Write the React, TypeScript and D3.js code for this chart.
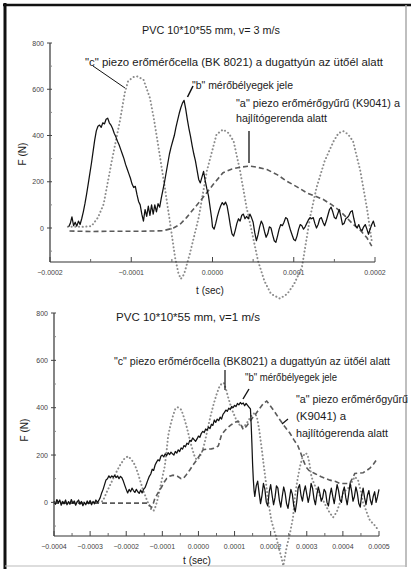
import React from "react";
import * as d3 from "d3";

// ---------- data (time in microseconds, force in N) ----------
const TOP_X_TICKS = [-0.0002, -0.0001, 0, 0.0001, 0.0002];
const TOP_X_MINOR = [-0.00015, -0.00005, 0.00005, 0.00015];
const BOT_X_TICKS = [-0.0004, -0.0003, -0.0002, -0.0001, 0, 0.0001, 0.0002, 0.0003, 0.0004, 0.0005];
const BOT_X_MINOR = [-0.00035, -0.00025, -0.00015, -0.00005, 0.00005, 0.00015, 0.00025, 0.00035, 0.00045];
const Y_TICKS = [0, 200, 400, 600, 800];
const Y_MINOR = [-100, 100, 300, 500, 700];

// top panel, v = 3 m/s
const TOP_B: [number, number][] = [
  [-177, 5], [-175, 20], [-173, 48], [-171, 10], [-169, 25], [-167, 8], [-165, 30], [-163, 15], [-161, 40], [-159, 70],
  [-157, 105], [-155, 145], [-153, 190], [-151, 235], [-149, 280], [-147, 330], [-145, 380], [-143, 420], [-141, 440], [-139, 445],
  [-137, 435], [-135, 455], [-133, 450], [-131, 470], [-129, 475], [-127, 455], [-125, 445], [-123, 430], [-121, 410], [-119, 395],
  [-117, 375], [-115, 360], [-113, 340], [-111, 320], [-109, 300], [-107, 275], [-105, 255], [-103, 235], [-101, 215], [-99, 190],
  [-97, 175], [-95, 180], [-93, 145], [-91, 115], [-89, 100], [-87, 60], [-85, 30], [-83, 80], [-81, 50], [-79, 95],
  [-77, 55], [-75, 100], [-73, 60], [-71, 100], [-69, 70], [-67, 105], [-65, 90], [-63, 130], [-61, 165], [-59, 200],
  [-57, 240], [-55, 280], [-53, 320], [-51, 350], [-49, 375], [-47, 400], [-45, 435], [-43, 465], [-41, 495], [-39, 520],
  [-37, 540], [-35, 552], [-33, 515], [-31, 470], [-29, 430], [-27, 395], [-25, 355], [-23, 320], [-21, 290], [-19, 250],
  [-17, 210], [-15, 195], [-13, 220], [-11, 245], [-9, 205], [-7, 170], [-5, 140], [-3, 90], [-1, 40],
  [0, 5], [2, -5], [4, 20], [6, 50], [8, 75], [10, 95], [12, 110], [14, 100], [16, 112], [18, 95],
  [20, 55], [22, 10], [24, -25], [26, -35], [28, -10], [30, 20], [32, 40], [34, 30], [36, 55], [38, 60],
  [40, 40], [42, 50], [44, 40], [46, 60], [48, 45], [50, 25], [52, -20], [54, -55], [56, -30], [58, 5],
  [60, 30], [62, 15], [64, -15], [66, -40], [68, -25], [70, 5], [72, 0], [74, -30], [76, -55], [78, -62],
  [80, -35], [82, -5], [84, 15], [86, 10], [88, 25], [90, 45], [92, 40], [94, 15], [96, -10], [98, -30],
  [100, -50], [102, -55], [104, -35], [106, -5], [108, 15], [110, 10], [112, -5], [114, 5], [116, 20], [118, 35],
  [120, 45], [122, 40], [124, 45], [126, 20], [128, 0], [130, 15], [132, 40], [134, 45], [136, 25], [138, 10],
  [140, 30], [142, 55], [144, 80], [146, 90], [148, 70], [150, 45], [152, 40], [154, 60], [156, 80], [158, 50],
  [160, 15], [162, 20], [164, 40], [166, 45], [168, 55], [170, 70], [172, 75], [174, 40], [176, 10], [178, 0],
  [180, 15], [182, -5], [184, -12], [186, 5], [188, 15], [190, -5], [192, -27], [194, -5], [196, 15], [198, 30], [200, 5],
];
const TOP_C: [number, number][] = [
  [-178, 5], [-160, 5], [-149, 8], [-141, 45], [-134, 103], [-124, 289], [-114, 462], [-108, 584], [-104, 634], [-98, 652],
  [-93, 656], [-85, 642], [-77, 562], [-72, 470], [-67, 361], [-58, 160], [-52, 17], [-46, -128], [-42, -195], [-39, -220],
  [-35, -200], [-28, -113], [-17, 45], [-7, 246], [5, 405], [13, 426], [20, 410], [26, 375], [34, 246], [42, 88],
  [50, -42], [56, -142], [64, -230], [72, -285], [83, -305], [92, -285], [100, -245], [110, -171], [120, 45], [128, 174],
  [138, 289], [149, 375], [155, 410], [161, 419], [167, 405], [173, 375], [182, 246], [190, 88], [196, -56],
];
const TOP_A: [number, number][] = [
  [-176, -13], [-150, -15], [-120, -14], [-90, -14], [-61, -12], [-48, 0], [-40, 16], [-32, 45], [-15, 117], [1, 189],
  [13, 239], [24, 255], [34, 263], [46, 268], [56, 262], [67, 253], [80, 230], [91, 203], [104, 178], [116, 152],
  [126, 138], [136, 124], [147, 100], [157, 73], [165, 45], [173, 16], [182, -10], [190, -42], [196, -78],
];

// bottom panel, v = 1 m/s
const BOT_B: [number, number][] = [
  [-400, 5], [-396, -8], [-392, 12], [-388, -2], [-384, 10], [-380, -12], [-376, 4], [-372, -6], [-368, 10], [-364, -10],
  [-360, 3], [-356, -8], [-352, 12], [-348, -4], [-344, 6], [-340, -12], [-336, 2], [-332, 10], [-328, -8], [-324, 4],
  [-320, -14], [-316, 0], [-312, -10], [-308, 6], [-304, -6], [-300, 8], [-296, -10], [-292, 4], [-288, -6], [-284, 10],
  [-280, 0], [-276, 8], [-272, 20], [-268, 40], [-264, 55], [-260, 75], [-256, 95], [-252, 100], [-248, 112], [-244, 104],
  [-240, 112], [-236, 106], [-232, 114], [-228, 105], [-224, 112], [-220, 100], [-216, 110], [-212, 104], [-208, 90], [-204, 72],
  [-200, 55], [-196, 40], [-192, 55], [-188, 45], [-184, 60], [-180, 50], [-176, 42], [-172, 55], [-168, 45], [-164, 38],
  [-160, 52], [-156, 40], [-152, 55], [-148, 62], [-144, 78], [-140, 95], [-136, 110], [-132, 120], [-128, 140], [-124, 135],
  [-120, 158], [-116, 170], [-112, 180], [-108, 175], [-104, 195], [-100, 200], [-96, 192], [-92, 205], [-88, 198], [-84, 210],
  [-80, 202], [-76, 212], [-72, 205], [-68, 200], [-64, 215], [-60, 208], [-56, 222], [-52, 215], [-48, 230], [-44, 225],
  [-40, 240], [-36, 235], [-32, 250], [-28, 245], [-24, 262], [-20, 258], [-16, 272], [-12, 265], [-8, 258], [-4, 268],
  [0, 280], [4, 275], [8, 292], [12, 300], [16, 295], [20, 310], [24, 305], [28, 318], [32, 312], [36, 330],
  [40, 325], [44, 348], [48, 338], [52, 352], [56, 345], [60, 360], [64, 352], [68, 372], [72, 380], [76, 390],
  [80, 385], [84, 398], [88, 392], [92, 405], [96, 400], [100, 410], [104, 405], [108, 418], [112, 412], [116, 422],
  [120, 415], [124, 420], [128, 408], [132, 418], [136, 410], [140, 402], [144, 395], [146, 330], [148, 250], [150, 160],
  [152, 95], [154, 50], [156, 25], [160, 70], [164, 90], [168, 40], [172, -5], [176, 30], [180, 80], [184, 55],
  [188, 0], [192, -15], [196, 45], [200, 75], [204, 30], [208, -10], [212, 20], [216, 70], [220, 60], [224, 10],
  [228, -20], [232, 25], [236, 65], [240, 40], [244, -5], [248, -25], [252, 15], [256, 55], [260, 35], [264, -15],
  [268, -40], [272, 0], [276, 60], [280, 75], [284, 30], [288, 5], [292, 45], [296, 70], [300, 35], [304, 0],
  [308, 30], [312, 80], [316, 60], [320, 15], [324, -10], [328, 35], [332, 65], [336, 40], [340, 5], [344, 20],
  [348, 55], [352, 45], [356, 0], [360, -15], [364, 30], [368, 60], [372, 25], [376, -5], [380, 35], [384, 75],
  [388, 50], [392, 10], [396, 0], [400, 45], [404, 65], [408, 20], [412, -10], [416, 35], [420, 80], [424, 50],
  [428, 5], [432, 25], [436, 65], [440, 40], [444, -5], [448, -20], [452, 30], [456, 60], [460, 20], [464, -10],
  [468, 30], [472, 50], [476, 10], [480, -10], [484, 25], [488, 45], [492, 0], [496, 25], [500, 55],
];
const BOT_C: [number, number][] = [
  [-400, 0], [-280, 0], [-265, 5], [-255, 40], [-241, 85], [-230, 120], [-218, 155], [-205, 185], [-195, 195], [-185, 180],
  [-176, 158], [-168, 125], [-162, 95], [-153, 50], [-144, 15], [-136, -15], [-130, -32], [-124, -35], [-118, -15], [-112, 20],
  [-107, 55], [-100, 105], [-93, 155], [-88, 220], [-84, 280], [-77, 330], [-70, 368], [-64, 395], [-58, 402], [-52, 398],
  [-47, 390], [-40, 358], [-33, 322], [-26, 278], [-19, 236], [-12, 200], [-5, 180], [2, 188], [9, 210], [16, 245],
  [22, 285], [29, 335], [36, 380], [43, 420], [50, 455], [57, 485], [64, 502], [70, 505], [76, 480], [82, 445],
  [89, 410], [96, 380], [103, 355], [110, 335], [117, 322], [124, 318], [132, 330], [140, 350], [148, 370], [156, 378],
  [162, 360], [168, 310], [175, 230], [179, 179], [186, 95], [193, 9], [202, -77], [209, -115], [216, -150], [223, -195],
  [230, -234], [235, -268], [240, -225], [244, -191], [253, -134], [262, -63], [267, 23], [274, 95], [281, 151], [288, 190],
  [295, 208], [300, 205], [304, 190], [309, 150], [313, 108], [320, 80], [327, 55], [336, 30], [345, 9], [355, -20],
  [364, -45], [373, -63], [383, -40], [392, 0], [401, 40], [410, 55], [419, 65], [426, 90], [433, 108], [442, 94],
  [450, 45], [456, -4], [461, -20], [468, -50], [475, -77], [484, -90], [493, -105], [497, -120],
];
const BOT_A: [number, number][] = [
  [-400, -3], [-140, -3], [-134, -15], [-130, -22], [-125, -5], [-121, 15], [-112, 40], [-102, 65], [-95, 85], [-88, 101],
  [-80, 110], [-70, 115], [-58, 110], [-48, 100], [-42, 101], [-33, 118], [-24, 137], [-15, 158], [-5, 179], [4, 200],
  [13, 222], [24, 225], [36, 226], [46, 230], [55, 238], [64, 286], [74, 305], [83, 318], [92, 329], [101, 338],
  [110, 343], [117, 330], [124, 308], [133, 322], [142, 340], [152, 362], [161, 379], [170, 398], [180, 418], [189, 428],
  [198, 410], [210, 385], [225, 350], [240, 318], [253, 293], [264, 265], [275, 240], [283, 210], [290, 179], [298, 150],
  [306, 135], [322, 122], [340, 108], [364, 94], [380, 88], [392, 80], [405, 80], [419, 80], [426, 100], [433, 122],
  [445, 124], [456, 125], [466, 135], [475, 145], [485, 162], [493, 180],
];

const FONT = "'Liberation Sans', Arial, Helvetica, sans-serif";
const fmt = d3.format(".4f");

type PanelProps = {
  xDomain: [number, number];
  xRange: [number, number];
  yDomain: [number, number];
  yRange: [number, number];
  xTicks: number[];
  xMinor: number[];
  b: [number, number][];
  c: [number, number][];
  a: [number, number][];
};

function Panel(p: PanelProps) {
  const x = d3.scaleLinear().domain(p.xDomain).range(p.xRange);
  const y = d3.scaleLinear().domain(p.yDomain).range(p.yRange);
  const line = d3
    .line<[number, number]>()
    .x((d) => x(d[0] * 1e-6))
    .y((d) => y(d[1]))
    .curve(d3.curveLinear);
  const x0 = p.xRange[0];
  const yb = p.yRange[0];
  return (
    <g>
      {/* curves */}
      <path d={line(p.c) || ""} fill="none" stroke="#8c8c8c" strokeWidth={2} strokeLinecap="round" strokeDasharray="0.1 3.6" />
      <path d={line(p.a) || ""} fill="none" stroke="#5a5a5a" strokeWidth={1.6} strokeDasharray="5 3" />
      <path d={line(p.b) || ""} fill="none" stroke="#111" strokeWidth={1.25} strokeLinejoin="round" />
      {/* axes */}
      <line x1={x0} x2={x0} y1={y(800)} y2={yb} stroke="#333" strokeWidth={1.2} />
      <line x1={x0} x2={p.xRange[1]} y1={yb} y2={yb} stroke="#333" strokeWidth={1.2} />
      {Y_TICKS.map((v) => (
        <g key={"yt" + v}>
          <line x1={x0 - 3} x2={x0 + 2} y1={y(v)} y2={y(v)} stroke="#444" strokeWidth={1} />
          <text x={x0 - 6} y={y(v) + 2.5} fontSize={7} textAnchor="end" fill="#444" fontFamily={FONT}>
            {v}
          </text>
        </g>
      ))}
      {Y_MINOR.map((v) => (
        <line key={"ym" + v} x1={x0} x2={x0 + 2} y1={y(v)} y2={y(v)} stroke="#888" strokeWidth={1} />
      ))}
      {p.xTicks.map((t) => (
        <g key={"xt" + t}>
          <line x1={x(t)} x2={x(t)} y1={yb} y2={yb - 5} stroke="#444" strokeWidth={1} />
          <text x={x(t)} y={yb + 13} fontSize={7} textAnchor="middle" fill="#444" fontFamily={FONT}>
            {fmt(t)}
          </text>
        </g>
      ))}
      {p.xMinor.map((t) => (
        <line key={"xm" + t} x1={x(t)} x2={x(t)} y1={yb} y2={yb - 3} stroke="#666" strokeWidth={1} />
      ))}
    </g>
  );
}

function T(props: { x: number; y: number; w?: number; size?: number; children: string; rot?: boolean }) {
  const { x, y, w, size = 10, children, rot } = props;
  return (
    <text
      x={x}
      y={y}
      fontSize={size}
      fontFamily={FONT}
      fill="#1a1a1a"
      textLength={w}
      lengthAdjust={w ? "spacingAndGlyphs" : undefined}
      dominantBaseline="central"
      transform={rot ? `rotate(-90 ${x} ${y})` : undefined}
      textAnchor={rot ? "middle" : "start"}
    >
      {children}
    </text>
  );
}

export default function App() {
  return (
    <svg width={411} height={569} style={{ position: "absolute", left: 0, top: 0, background: "#fff" }}>
      <rect x={0} y={0} width={411} height={569} fill="#fff" />
      {/* frame */}
      <line x1={5} x2={5} y1={3} y2={569} stroke="#111" strokeWidth={3} />
      <line x1={3} x2={411} y1={5} y2={5} stroke="#111" strokeWidth={2.5} />
      <line x1={406} x2={406} y1={5} y2={567} stroke="#aaa" strokeWidth={1.5} />
      <line x1={5} x2={406} y1={566} y2={566} stroke="#bbb" strokeWidth={1.2} />

      {/* top panel */}
      <Panel
        xDomain={[-0.0002, 0.0002]}
        xRange={[50, 375]}
        yDomain={[-147, 800]}
        yRange={[262, 43]}
        xTicks={TOP_X_TICKS}
        xMinor={TOP_X_MINOR}
        b={TOP_B}
        c={TOP_C}
        a={TOP_A}
      />
      <T x={142} y={30} w={138}>PVC 10*10*55 mm, v= 3 m/s</T>
      <T x={85} y={62} w={298}>"c" piezo erőmérőcella (BK 8021) a dugattyún az ütőél alatt</T>
      <T x={192} y={85} w={101}>"b" mérőbélyegek jele</T>
      <T x={236} y={103} w={164}>"a" piezo erőmérőgyűrű (K9041) a</T>
      <T x={236} y={118} w={91}>hajlítógerenda alatt</T>
      <line x1={93} y1={66} x2={125} y2={88} stroke="#111" strokeWidth={1} />
      <line x1={187.5} y1={97} x2={193} y2={86} stroke="#111" strokeWidth={1.6} />
      <line x1={249} y1={131} x2={249} y2={163} stroke="#111" strokeWidth={1.3} />
      <T x={22} y={154} rot>F (N)</T>
      <text x={210} y={290} fontSize={10} fontFamily={FONT} textAnchor="middle" dominantBaseline="central" fill="#1a1a1a">
        t (sec)
      </text>

      {/* bottom panel */}
      <Panel
        xDomain={[-0.0004, 0.0005]}
        xRange={[54, 379]}
        yDomain={[-142, 800]}
        yRange={[536, 313]}
        xTicks={BOT_X_TICKS}
        xMinor={BOT_X_MINOR}
        b={BOT_B}
        c={BOT_C}
        a={BOT_A}
      />
      <T x={116} y={317} w={144}>PVC 10*10*55 mm, v=1 m/s</T>
      <T x={114} y={361} w={276}>"c" piezo erőmérőcella (BK8021) a dugattyún az ütőél alatt</T>
      <T x={245} y={377} w={92}>"b" mérőbélyegek jele</T>
      <T x={296} y={399} w={112}>"a" piezo erőmérőgyűrű</T>
      <T x={296} y={416} w={50}>(K9041) a</T>
      <T x={296} y={433} w={92}>hajlítógerenda alatt</T>
      <line x1={225} y1={370} x2={225} y2={390} stroke="#111" strokeWidth={1.2} />
      <line x1={243} y1={399} x2={249} y2={389} stroke="#111" strokeWidth={1.4} />
      <line x1={288} y1={419} x2={282} y2={424} stroke="#111" strokeWidth={1.2} />
      <T x={24} y={430} rot>F (N)</T>
      <text x={197} y={560} fontSize={10} fontFamily={FONT} textAnchor="middle" dominantBaseline="central" fill="#1a1a1a">
        t (sec)
      </text>
    </svg>
  );
}
